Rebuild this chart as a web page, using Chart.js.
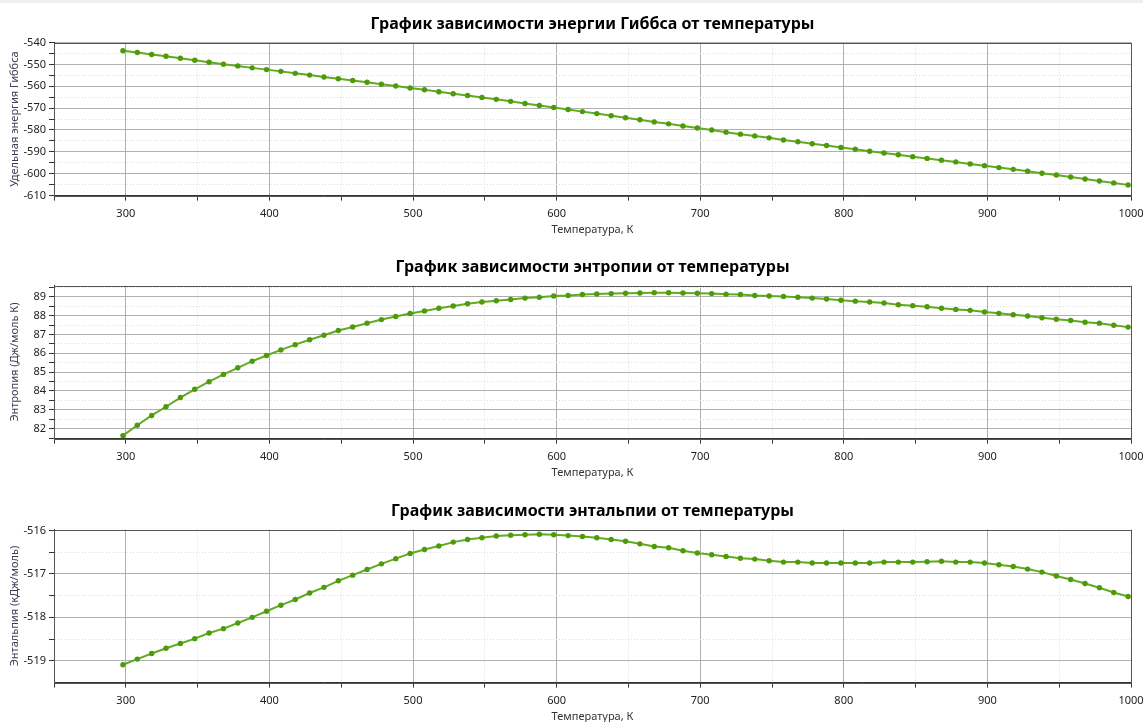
<!DOCTYPE html>
<html>
<head>
<meta charset="utf-8">
<script src="https://cdn.jsdelivr.net/npm/chart.js@4.4.1/dist/chart.umd.min.js"></script>
<style>
  body { margin: 0; background: #fff; width: 1143px; height: 722px; overflow: hidden; position: relative; }
  .topbar { position: absolute; left: 0; top: 0; width: 1143px; height: 3px; background: #f0f0f0; }
  .box { position: absolute; left: 0; width: 1143px; height: 240px; }
</style>
</head>
<body>
<div class="topbar"></div>
<div class="box" style="top:0"><canvas id="gibbsChart" width="1143" height="240"></canvas></div>
<div class="box" style="top:243px"><canvas id="entropyChart" width="1143" height="240"></canvas></div>
<div class="box" style="top:487px"><canvas id="enthalpyChart" width="1143" height="240"></canvas></div>
<script>
// Data
const temps = [298, 308, 318, 328, 338, 348, 358, 368, 378, 388,
    398, 408, 418, 428, 438, 448, 458, 468, 478, 488,
    498, 508, 518, 528, 538, 548, 558, 568, 578, 588,
    598, 608, 618, 628, 638, 648, 658, 668, 678, 688,
    698, 708, 718, 728, 738, 748, 758, 768, 778, 788,
    798, 808, 818, 828, 838, 848, 858, 868, 878, 888,
    898, 908, 918, 928, 938, 948, 958, 968, 978, 988, 998];

const gibbs = [-543.8, -544.6, -545.5, -546.3, -547.2, -548.1, -549.0, -549.9, -550.7, -551.6,
    -552.4, -553.2, -554.1, -554.9, -555.8, -556.6, -557.4, -558.2, -559.1, -559.9,
    -560.8, -561.6, -562.5, -563.4, -564.2, -565.1, -566.0, -566.9, -567.9, -568.8,
    -569.7, -570.6, -571.6, -572.5, -573.5, -574.4, -575.3, -576.3, -577.2, -578.2,
    -579.1, -580.0, -581.0, -581.9, -582.7, -583.6, -584.6, -585.4, -586.3, -587.1,
    -588.0, -588.8, -589.7, -590.5, -591.3, -592.2, -593.0, -593.8, -594.6, -595.5,
    -596.3, -597.2, -598.0, -598.9, -599.8, -600.6, -601.5, -602.4, -603.3, -604.2, -605.1];

const entropy = [81.63, 82.18, 82.70, 83.16, 83.65, 84.09, 84.49, 84.88, 85.23, 85.58,
    85.88, 86.18, 86.46, 86.72, 86.96, 87.21, 87.40, 87.60, 87.79, 87.95,
    88.11, 88.25, 88.39, 88.51, 88.63, 88.72, 88.79, 88.86, 88.93, 88.98,
    89.04, 89.07, 89.12, 89.15, 89.17, 89.19, 89.20, 89.22, 89.22, 89.20,
    89.19, 89.17, 89.14, 89.12, 89.07, 89.04, 89.02, 88.98, 88.93, 88.88,
    88.82, 88.77, 88.72, 88.67, 88.58, 88.53, 88.47, 88.39, 88.33, 88.28,
    88.19, 88.12, 88.05, 87.98, 87.89, 87.81, 87.74, 87.65, 87.60, 87.49, 87.39];

const enthalpy = [-519.09, -518.96, -518.83, -518.71, -518.60, -518.49, -518.36, -518.26, -518.13, -518.00,
    -517.86, -517.72, -517.59, -517.44, -517.31, -517.16, -517.03, -516.90, -516.77, -516.65,
    -516.53, -516.44, -516.36, -516.27, -516.21, -516.17, -516.13, -516.11, -516.10, -516.09,
    -516.10, -516.12, -516.14, -516.17, -516.21, -516.25, -516.31, -516.37, -516.40, -516.47,
    -516.52, -516.56, -516.60, -516.64, -516.66, -516.70, -516.73, -516.73, -516.75, -516.75,
    -516.75, -516.75, -516.75, -516.73, -516.73, -516.73, -516.72, -516.71, -516.73, -516.73,
    -516.75, -516.79, -516.83, -516.89, -516.96, -517.05, -517.13, -517.22, -517.32, -517.43, -517.52];

// Tick values
const xMajor = [300, 400, 500, 600, 700, 800, 900, 1000];
const xMinor = [250, 350, 450, 550, 650, 750, 850, 950];
const gibbsMajor = [-610, -600, -590, -580, -570, -560, -550, -540];
const gibbsMinor = [-605, -595, -585, -575, -565, -555, -545];
const entropyMajor = [82, 83, 84, 85, 86, 87, 88, 89];
const entropyMinor = [81.5, 82.5, 83.5, 84.5, 85.5, 86.5, 87.5, 88.5, 89.5];
const enthalpyMajor = [-519, -518, -517, -516];
const enthalpyMinor = [-518.5, -517.5, -516.5];

const FONT = "'Noto Sans', 'Open Sans', sans-serif";

// frame around the plot area (top and right edges)
const frame = {
    id: 'frame',
    afterDraw(chart) {
        const a = chart.chartArea;
        const ctx = chart.ctx;
        ctx.save();
        ctx.strokeStyle = '#555';
        ctx.lineWidth = 1;
        ctx.strokeRect(Math.round(a.left) + 0.5, Math.round(a.top) + 0.5,
            Math.round(a.right - a.left), Math.round(a.bottom - a.top));
        ctx.restore();
    }
};

function tickAxis(major, minor, min, max, extra) {
    const all = major.concat(minor).sort((a, b) => a - b);
    const isMajor = v => major.some(m => Math.abs(m - v) < 1e-6);
    return Object.assign({
        type: 'linear',
        min: min,
        max: max,
        afterBuildTicks: axis => { axis.ticks = all.map(v => ({ value: v })); },
        ticks: {
            autoSkip: false,
            color: '#222',
            font: { family: FONT, size: 11 },
            callback: v => isMajor(v) ? String(v) : ''
        },
        grid: {
            color: c => c.tick && isMajor(c.tick.value) ? '#b0b0b0' : '#dcdcdc',
            lineWidth: 1,
            tickColor: '#333',
            tickLength: 5
        },
        border: {
            color: '#333',
            dash: c => (c.tick && !isMajor(c.tick.value)) ? [1, 2] : []
        }
    }, extra);
}

function makeChart(id, title, yTitle, values, yMajor, yMinor, yMin, yMax) {
    const ctx = document.getElementById(id).getContext('2d');
    return new Chart(ctx, {
        type: 'line',
        data: {
            datasets: [{
                data: temps.map((t, i) => ({ x: t, y: values[i] })),
                borderColor: '#62aa22',
                borderWidth: 2,
                pointBackgroundColor: '#4d9a0a',
                pointBorderWidth: 0,
                pointRadius: 2.7,
                tension: 0,
                clip: false
            }]
        },
        options: {
            responsive: false,
            animation: false,
            layout: { padding: { left: 0, right: 12, top: 0, bottom: 4 } },
            plugins: {
                legend: { display: false },
                tooltip: { enabled: false },
                title: {
                    display: true,
                    text: title,
                    fullSize: false,
                    color: '#000',
                    font: { family: FONT, size: 16, weight: 'bold' },
                    padding: { top: 14.4, bottom: 8.9 }
                }
            },
            scales: {
                x: tickAxis(xMajor, xMinor, 250, 1000, {
                    afterFit: axis => { axis.paddingRight = 0; axis.paddingLeft = 0; },
                    ticks: {
                        autoSkip: false,
                        maxRotation: 0,
                        padding: 7,
                        color: '#222',
                        font: { family: FONT, size: 11 },
                        callback: v => xMajor.includes(v) ? String(v) : ''
                    },
                    title: {
                        display: true,
                        text: 'Температура, К',
                        color: '#333',
                        font: { family: FONT, size: 11 },
                        padding: { top: -5, bottom: 0 }
                    }
                }),
                y: tickAxis(yMajor, yMinor, yMin, yMax, {
                    afterFit: axis => { axis.width = 54; },
                    title: {
                        display: true,
                        text: yTitle,
                        color: '#3a3f55',
                        font: { family: FONT, size: 11 },
                        padding: { top: 8, bottom: 0 }
                    }
                })
            }
        },
        plugins: [frame]
    });
}

const gibbsChart = makeChart('gibbsChart', 'График зависимости энергии Гиббса от температуры',
    'Удельная энергия Гиббса', gibbs, gibbsMajor, gibbsMinor, -610, -540);
const entropyChart = makeChart('entropyChart', 'График зависимости энтропии от температуры',
    'Энтропия (Дж/моль К)', entropy, entropyMajor, entropyMinor, 81.47, 89.6);
const enthalpyChart = makeChart('enthalpyChart', 'График зависимости энтальпии от температуры',
    'Энтальпия (кДж/моль)', enthalpy, enthalpyMajor, enthalpyMinor, -519.5, -515.98);
</script>
</body>
</html>
